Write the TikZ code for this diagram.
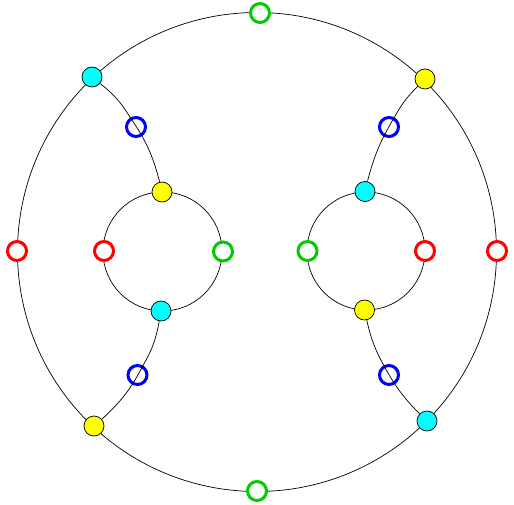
\documentclass[tikz,border=0pt]{standalone}
\usepackage{tikz}
\definecolor{ringgreen}{RGB}{0,204,0}
\definecolor{dotcyan}{RGB}{0,255,255}
\definecolor{dotyellow}{RGB}{255,255,0}
\definecolor{ringred}{RGB}{255,0,0}
\definecolor{ringblue}{RGB}{0,0,255}

\begin{document}
\begin{tikzpicture}[x=1pt,y=-1pt,
    dot/.style={circle,draw=black,line width=0.7pt,minimum size=20pt,inner sep=0pt},
    ring/.style={circle,fill=white,line width=3pt,minimum size=19pt,inner sep=0pt},
    link/.style={line width=0.7pt}]
    \useasboundingbox (0,0) rectangle (514,505);

    % Outer circle and the two inner circles
    \draw[link] (257,252) circle (239.5);
    \draw[link] (162.5,251.5) circle (59.5);
    \draw[link] (366,251) circle (59);

    % Outer nodes
    \node[ring,draw=ringgreen] (otop) at (260,13) {};
    \node[ring,draw=ringgreen] (obot) at (257,491) {};
    \node[ring,draw=ringred] (oleft) at (17,251) {};
    \node[ring,draw=ringred] (oright) at (497,251) {};
    \node[dot,fill=dotcyan] (otl) at (92,77) {};
    \node[dot,fill=dotyellow] (otr) at (425,79) {};
    \node[dot,fill=dotyellow] (obl) at (94,426) {};
    \node[dot,fill=dotcyan] (obr) at (427,421) {};

    % Left inner circle
    \node[dot,fill=dotyellow] (lt) at (162,192) {};
    \node[dot,fill=dotcyan] (lb) at (161,311) {};
    \node[ring,draw=ringred] (ll) at (104,251) {};
    \node[ring,draw=ringgreen] (lr) at (223,251.5) {};

    % Right inner circle
    \node[dot,fill=dotcyan] (rt) at (365,191.5) {};
    \node[dot,fill=dotyellow] (rb) at (364.5,310) {};
    \node[ring,draw=ringgreen] (rl) at (307.5,251) {};
    \node[ring,draw=ringred] (rr) at (425,251) {};

    % Blue nodes on the links
    \node[ring,draw=ringblue] (b1) at (136,127) {};
    \node[ring,draw=ringblue] (b2) at (137.5,375) {};
    \node[ring,draw=ringblue] (b3) at (389,127) {};
    \node[ring,draw=ringblue] (b4) at (389,375) {};

    % Links from the outer circle to the inner ones
    \draw[link] (otl) to[bend left=10] (b1) to[bend left=10] (lt);
    \draw[link] (lb) to[bend left=10] (b2) to[bend left=10] (obl);
    \draw[link] (otr) to[bend right=8] (b3) to[bend right=8] (rt);
    \draw[link] (rb) to[bend right=8] (b4) to[bend right=8] (obr);
\end{tikzpicture}
\end{document}
